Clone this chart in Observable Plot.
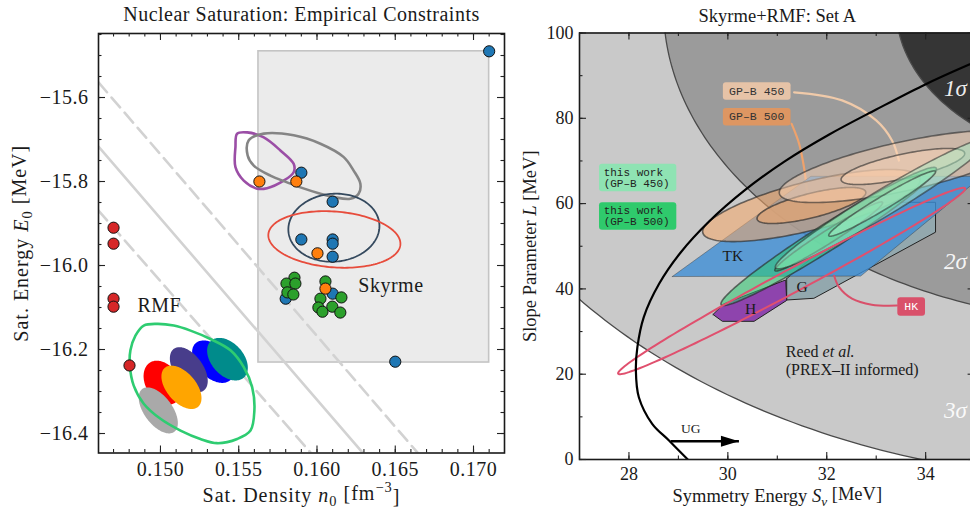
<!DOCTYPE html>
<html><head><meta charset="utf-8">
<script src="https://cdn.jsdelivr.net/npm/d3@7"></script>
<script src="https://cdn.jsdelivr.net/npm/@observablehq/plot@0.6"></script>
<style>
html,body{margin:0;padding:0;background:#fff;overflow:hidden;}
#wrap{display:flex;width:970px;height:508px;overflow:hidden;}
#left{width:510px;height:508px;flex:none;}
#right{width:470px;height:508px;flex:none;}
svg{display:block;}
</style></head><body><div id="wrap"><div id="left"></div><div id="right"></div></div>
<script>
// ---------------- LEFT PANEL DATA ----------------
const xTicksL = [0.150, 0.155, 0.160, 0.165, 0.170];
const yTicksL = [-16.4, -16.2, -16.0, -15.8, -15.6];
const skyrmeBlue = [[0.1710,-15.490],[0.1590,-15.779],[0.1610,-15.848],[0.1590,-15.938],[0.1610,-15.938],[0.1610,-15.948],[0.1610,-15.979],[0.1650,-16.229],[0.1580,-16.079],[0.1610,-16.067]];
const skyrmeGreen = [[0.15856,-16.029],[0.15805,-16.043],[0.15862,-16.043],[0.15811,-16.064],[0.15849,-16.069],[0.16054,-16.038],[0.16156,-16.076],[0.16022,-16.079],[0.16009,-16.100],[0.16035,-16.110],[0.16098,-16.098],[0.16149,-16.112]];
const skyrmeOrange = [[0.15632,-15.800],[0.15868,-15.800],[0.16003,-15.971],[0.16054,-16.055]];
const rmfRed = [[0.1470,-15.910],[0.1470,-15.948],[0.1470,-16.079],[0.1470,-16.098],[0.14802,-16.238]];
const boxN = [0.15626, 0.1710];
const boxE = [-16.231, -15.490];
const bandSolid = [[0.14604,-15.717],[0.1629,-16.445]];
const bandDashHi = [[0.14604,-15.564],[0.16641,-16.445]];
const bandDashLo = [[0.14604,-15.869],[0.15958,-16.445]];
const purpleContour = [[0.15490,-15.686],[0.15554,-15.683],[0.15660,-15.695],[0.15766,-15.726],[0.15851,-15.758],[0.15851,-15.778],[0.15787,-15.798],[0.15681,-15.816],[0.15618,-15.817],[0.15532,-15.798],[0.15479,-15.766],[0.15479,-15.718]];
const grayContour = [[0.15564,-15.702],[0.15660,-15.686],[0.15851,-15.690],[0.16022,-15.710],[0.16171,-15.742],[0.16234,-15.774],[0.16277,-15.805],[0.16266,-15.829],[0.16213,-15.841],[0.16107,-15.837],[0.16022,-15.829],[0.15894,-15.814],[0.15809,-15.802],[0.15702,-15.786],[0.15596,-15.762],[0.15557,-15.738]];
const greenContour = [[0.14893,-16.143],[0.14979,-16.139],[0.15085,-16.143],[0.15192,-16.155],[0.15319,-16.175],[0.15447,-16.202],[0.15532,-16.242],[0.15586,-16.290],[0.15600,-16.345],[0.15575,-16.393],[0.15490,-16.413],[0.15362,-16.423],[0.15255,-16.413],[0.15128,-16.393],[0.15000,-16.365],[0.14893,-16.329],[0.14829,-16.286],[0.14804,-16.238],[0.14808,-16.202],[0.14840,-16.167]];
const skyrmeEllipses = [
  {id:"navy", x:0.16108, y:-15.910, sx:0.00291, sy:0.0810, rho:0.05},
  {id:"coral", x:0.16111, y:-15.938, sx:0.00422, sy:0.0674, rho:-0.15}
];
const rmfEllipses = [
  {id:"blue",   x:0.15335, y:-16.229, sx:0.00133, sy:0.0505, rho:-0.45},
  {id:"teal",   x:0.15428, y:-16.223, sx:0.00130, sy:0.0507, rho:-0.40},
  {id:"slate",  x:0.15181, y:-16.248, sx:0.00121, sy:0.0536, rho:-0.50},
  {id:"red",    x:0.15013, y:-16.279, sx:0.00121, sy:0.0524, rho:-0.30},
  {id:"orange", x:0.15134, y:-16.290, sx:0.00128, sy:0.0517, rho:-0.50},
  {id:"gray",   x:0.14986, y:-16.345, sx:0.00125, sy:0.0548, rho:-0.55}
];
const leftLabels = [{t:"RMF", x:0.14853, y:-16.095},{t:"Skyrme", x:0.16264, y:-16.048}];

// ---------------- RIGHT PANEL DATA ----------------
const xTicksR = [28, 30, 32, 34];
const yTicksR = [0, 20, 40, 60, 80, 100];
const reed = {x:38.1, y:106, sx:4.7, sy:37, rho:0};
const reedLevels = [3, 2, 1];
const sigmaLabels = [{t:"3σ", x:34.37, y:11.5},{t:"2σ", x:34.37, y:46.3},{t:"1σ", x:34.37, y:87.0}];
const ugCurve = [[29.19,0],[28.81,4.45],[28.47,8.37],[28.20,14.6],[28.14,20.9],[28.17,26.3],[28.30,33.4],[28.61,41.2],[29.05,48.6],[29.62,55.8],[30.35,63.2],[31.15,69.9],[32.05,76.2],[32.99,82.0],[33.93,87.6],[34.88,92.6],[35.5,95.6]];
const ugArrow = [{x1:28.843, x2:30.224, y:4.29}];
const tkPoly = [[28.876,42.9],[32.686,43.0],[35.14,66.4],[31.68,66.4]];
const gPoly = [[31.19,42.4],[31.19,37.4],[31.74,37.8],[34.20,53.3],[34.20,60.3],[33.06,60.3]];
const hPoly = [[29.70,34.0],[29.92,36.5],[31.17,42.1],[31.19,37.3],[30.53,32.4],[29.89,32.4]];
const gpbEllipses = [
  {id:"GP–B 500", x:31.69, y:59.55, sx:1.10, sy:4.23, rho:0.72},
  {id:"GP–B 450", x:33.54, y:68.7,  sx:1.25, sy:4.23, rho:0.72}
];
const thisWorkEllipses = [
  {id:"500", x:32.04, y:52.3, sx:1.09, sy:8.1, rho:0.975},
  {id:"450", x:33.12, y:60.0, sx:1.08, sy:7.65, rho:0.972}
];
const hkEllipse = {x:31.29, y:41.85, sx:3.51, sy:21.86, rho:0.990};
const levels12 = [2, 1];
const gpb450Leader = [[31.34,86.1],[32.31,84.2],[33.0,79.5],[33.32,74.8],[33.46,70.1]];
const gpb500Leader = [[31.29,78.7],[31.44,74.1],[31.54,68.5],[31.60,63.1]];
const hkLeader = [[32.15,43.1],[32.25,40.4],[32.51,37.7],[32.91,36.3],[33.42,36.1]];
const boxLabels = [
  {id:"gpb450", t:"GP–B 450", x:30.584, y:86.40},
  {id:"gpb500", t:"GP–B 500", x:30.584, y:80.38},
  {id:"tw450", t:"this work\n(GP–B 450)", x:28.176, y:66.12},
  {id:"tw500", t:"this work\n(GP–B 500)", x:28.176, y:57.09},
  {id:"hk", t:"HK", x:33.707, y:35.87}
];
const regionLabels = [{t:"TK", x:30.10, y:47.6},{t:"H", x:30.46, y:35.33},{t:"G", x:31.50, y:40.4}];
const reedLabel = [{t:"Reed et al.", x:31.17, y:25.2},{t:"(PREX–II informed)", x:31.17, y:20.98}];
const ugLabel = [{t:"UG", x:29.25, y:7.2}];

// ---------------- HELPERS ----------------
const SERIF = "'Liberation Serif', 'Times New Roman', serif";
const MONO = "'Liberation Mono', 'DejaVu Sans Mono', monospace";
function covEllipse(c, k, n = 160) {
  const pts = [];
  const s = Math.sqrt(1 - c.rho * c.rho);
  for (let i = 0; i <= n; i++) {
    const t = 2 * Math.PI * i / n;
    pts.push([c.x + k * c.sx * Math.cos(t), c.y + k * c.sy * (c.rho * Math.cos(t) + s * Math.sin(t))]);
  }
  return pts;
}
const X = d => d[0], Y = d => d[1];
function tickMarks(xMaj, xMin, yMaj, yMin, iw, ih) {
  const st = {stroke: "#222", strokeWidth: 1.1};
  const M = 7, m = 3.5;
  return [
    Plot.ruleX(xMaj, {x: d => d, insetTop: ih - M, ...st}),
    Plot.ruleX(xMaj, {x: d => d, insetBottom: ih - M, ...st}),
    Plot.ruleX(xMin, {x: d => d, insetTop: ih - m, ...st}),
    Plot.ruleX(xMin, {x: d => d, insetBottom: ih - m, ...st}),
    Plot.ruleY(yMaj, {y: d => d, insetRight: iw - M, ...st}),
    Plot.ruleY(yMaj, {y: d => d, insetLeft: iw - M, ...st}),
    Plot.ruleY(yMin, {y: d => d, insetRight: iw - m, ...st}),
    Plot.ruleY(yMin, {y: d => d, insetLeft: iw - m, ...st})
  ];
}
function roundBox(w, h, r) {
  return {draw(ctx) {
    const x0 = -w / 2, y0 = -h / 2, x1 = w / 2, y1 = h / 2;
    ctx.moveTo(x0 + r, y0); ctx.lineTo(x1 - r, y0); ctx.arcTo(x1, y0, x1, y0 + r, r);
    ctx.lineTo(x1, y1 - r); ctx.arcTo(x1, y1, x1 - r, y1, r);
    ctx.lineTo(x0 + r, y1); ctx.arcTo(x0, y1, x0, y1 - r, r);
    ctx.lineTo(x0, y0 + r); ctx.arcTo(x0, y0, x0 + r, y0, r); ctx.closePath();
  }};
}
const arrowHead = {draw(ctx) { ctx.moveTo(0, 0); ctx.lineTo(-18, -5.5); ctx.lineTo(-18, 5.5); ctx.closePath(); }};
function rich(svg, key, segs) {
  d3.select(svg).selectAll("text").filter(function() { return this.textContent === key; }).each(function() {
    const t = d3.select(this); t.text(null);
    segs.forEach(s => {
      const ts = t.append("tspan").text(s.t);
      if (s.it) ts.attr("font-style", "italic");
      if (s.sub) ts.attr("dy", s.sub).attr("font-size", "72%");
      if (s.dy) ts.attr("dy", s.dy);
    });
  });
}

// ---------------- LEFT PLOT ----------------
const lW = 510, lH = 508, lML = 98, lMR = 6, lMT = 33, lMB = 55.5;
const left = Plot.plot({
  width: lW, height: lH, marginLeft: lML, marginRight: lMR, marginTop: lMT, marginBottom: lMB,
  x: {domain: [0.14604, 0.17198]},
  y: {domain: [-16.4464, -15.4476]},
  style: {fontFamily: SERIF, fontSize: "20px", color: "#1a1a1a", background: "white", overflow: "visible", letterSpacing: "0.5px", maxWidth: "none"},
  marks: [
    Plot.rect([{a: boxN[0], b: boxN[1], c: boxE[0], d: boxE[1]}], {x1: "a", x2: "b", y1: "c", y2: "d", fill: "#ebebeb", stroke: "#c4c4c4", strokeWidth: 1.6}),
    Plot.line(bandSolid, {x: X, y: Y, stroke: "#d2d2d2", strokeWidth: 2.6, clip: true}),
    Plot.line(bandDashHi, {x: X, y: Y, stroke: "#d2d2d2", strokeWidth: 2.6, strokeDasharray: "13,7", clip: true}),
    Plot.line(bandDashLo, {x: X, y: Y, stroke: "#d2d2d2", strokeWidth: 2.6, strokeDasharray: "13,7", clip: true}),
    Plot.line(purpleContour, {x: X, y: Y, curve: "catmull-rom-closed", stroke: "#9b4ea6", strokeWidth: 2.6}),
    Plot.line(grayContour, {x: X, y: Y, curve: "catmull-rom-closed", stroke: "#858585", strokeWidth: 2.6}),
    Plot.line(covEllipse(skyrmeEllipses[0], 1), {x: X, y: Y, stroke: "#34495e", strokeWidth: 1.8}),
    Plot.line(covEllipse(skyrmeEllipses[1], 1), {x: X, y: Y, stroke: "#e74c3c", strokeWidth: 1.8}),
    ...rmfEllipses.map(e => Plot.line(covEllipse(e, 1), {x: X, y: Y, fill: ({blue:"#0000ff", teal:"#008b8b", slate:"#483d8b", red:"#ff0000", orange:"#ffa500", gray:"#a9a9a9"})[e.id], stroke: "none"})),
    Plot.line(greenContour, {x: X, y: Y, curve: "catmull-rom-closed", stroke: "#2ecc71", strokeWidth: 2.6}),
    Plot.dot(skyrmeBlue, {x: X, y: Y, r: 5.6, fill: "#1f77b4", stroke: "#111", strokeWidth: 1}),
    Plot.dot(skyrmeGreen, {x: X, y: Y, r: 5.6, fill: "#2ca02c", stroke: "#111", strokeWidth: 1}),
    Plot.dot(skyrmeOrange, {x: X, y: Y, r: 5.6, fill: "#ff7f0e", stroke: "#111", strokeWidth: 1}),
    Plot.dot(rmfRed, {x: X, y: Y, r: 5.6, fill: "#d62728", stroke: "#111", strokeWidth: 1}),
    Plot.text(leftLabels, {x: "x", y: "y", text: "t", textAnchor: "start", fontSize: 20, fill: "#1a1a1a"}),
    Plot.frame({stroke: "#1a1a1a", strokeWidth: 1.6}),
    ...tickMarks(xTicksL, d3.range(0.147, 0.1715, 0.001), yTicksL, d3.range(-16.4, -15.44, 0.05), lW - lML - lMR, lH - lMT - lMB),
    Plot.axisX({ticks: xTicksL, tickSize: 0, tickPadding: 9, tickFormat: d => d.toFixed(3), fontSize: 20, label: null}),
    Plot.axisY({ticks: yTicksL, tickSize: 0, tickPadding: 10, tickFormat: d => d.toFixed(1).replace("-", "\u2212"), fontSize: 20, label: null}),
    Plot.text(["Nuclear Saturation: Empirical Constraints"], {text: d => d, frameAnchor: "top", lineAnchor: "middle", textAnchor: "middle", dy: -18.5, fontSize: 20, letterSpacing: "1.3px"}),
    Plot.text(["Sat. Density n0 [fm-3]"], {text: d => d, frameAnchor: "bottom", lineAnchor: "middle", textAnchor: "middle", dy: 42.5, fontSize: 20}),
    Plot.text(["Sat. Energy E0 [MeV]"], {text: d => d, frameAnchor: "left", lineAnchor: "middle", textAnchor: "middle", dx: -77, rotate: -90, fontSize: 20})
  ]
});
rich(left, "Sat. Density n0 [fm-3]", [{t: "Sat. Density "}, {t: "n", it: 1}, {t: "0", sub: "0.3em"}, {t: " [fm", dy: "-0.3em"}, {t: "\u22123", sub: "-0.55em"}, {t: "]", dy: "0.55em"}]);
rich(left, "Sat. Energy E0 [MeV]", [{t: "Sat. Energy "}, {t: "E", it: 1}, {t: "0", sub: "0.3em"}, {t: " [MeV]", dy: "-0.3em"}]);
d3.select(left).selectAll("text").filter(function() { return /^Sat\./.test(this.textContent); }).attr("letter-spacing", "1px");
document.getElementById("left").append(left);

// ---------------- RIGHT PLOT ----------------
const rW = 470, rH = 508, rML = 69, rMR = 5.4, rMT = 32.5, rMB = 49;
const reedFill = {3: "#c9c9c9", 2: "#9b9b9b", 1: "#353535"};
const boxFill = {gpb450: "#e6c3a7", gpb500: "#dd9662", tw450: "#8fe3b3", tw500: "#2fca6c", hk: "#d9506a"};
const boxSize = {gpb450: [67.7, 17.6], gpb500: [67.7, 17.6], tw450: [77.3, 27.4], tw500: [77.3, 27.4], hk: [27.7, 18.3]};
const right = Plot.plot({
  width: rW, height: rH, marginLeft: rML, marginRight: rMR, marginTop: rMT, marginBottom: rMB,
  x: {domain: [27, 35]},
  y: {domain: [0, 100]},
  style: {fontFamily: SERIF, fontSize: "18px", color: "#1a1a1a", background: "white", overflow: "visible", maxWidth: "none"},
  marks: [
    ...reedLevels.map(k => Plot.line(covEllipse(reed, k, 400), {x: X, y: Y, fill: reedFill[k], stroke: "#4a4a4a", strokeWidth: 1.3, clip: true})),
    Plot.text(sigmaLabels, {x: "x", y: "y", text: "t", textAnchor: "start", fill: "white", fillOpacity: 0.92, fontSize: 23, fontStyle: "italic"}),
    Plot.line(gpb450Leader, {x: X, y: Y, curve: "catmull-rom", stroke: "#f0caa9", strokeWidth: 2.2}),
    Plot.line(gpb500Leader, {x: X, y: Y, curve: "catmull-rom", stroke: "#eea26c", strokeWidth: 2.2}),
    Plot.line(gPoly.concat([gPoly[0]]), {x: X, y: Y, fill: "#93a8ae", stroke: "#222", strokeWidth: 1, clip: true}),
    Plot.line(hPoly.concat([hPoly[0]]), {x: X, y: Y, fill: "#8e44ad", stroke: "#222", strokeWidth: 1, clip: true}),
    Plot.line(tkPoly.concat([tkPoly[0]]), {x: X, y: Y, fill: "#3f8fd6", fillOpacity: 0.8, stroke: "#333", strokeOpacity: 0.4, strokeWidth: 1, clip: true}),
    ...levels12.map(k => Plot.line(covEllipse(gpbEllipses[0], k), {x: X, y: Y, fill: "#f5a868", fillOpacity: 0.55, stroke: "#2a2a2a", strokeOpacity: 0.65, strokeWidth: 1.6, clip: true})),
    ...levels12.map(k => Plot.line(covEllipse(gpbEllipses[1], k), {x: X, y: Y, fill: "#fbd3b6", fillOpacity: 0.5, stroke: "#2a2a2a", strokeOpacity: 0.6, strokeWidth: 1.6, clip: true})),
    ...levels12.map(k => Plot.line(covEllipse(thisWorkEllipses[0], k), {x: X, y: Y, fill: "#2ecc71", fillOpacity: 0.55, stroke: "#2a2a2a", strokeOpacity: 0.65, strokeWidth: 1.6, clip: true})),
    ...levels12.map(k => Plot.line(covEllipse(thisWorkEllipses[1], k), {x: X, y: Y, fill: "#a6ecc6", fillOpacity: 0.5, stroke: "#2a2a2a", strokeOpacity: 0.55, strokeWidth: 1.6, clip: true})),
    Plot.line(covEllipse(hkEllipse, 1), {x: X, y: Y, stroke: "#e0506e", strokeWidth: 2, clip: true}),
    Plot.line(hkLeader, {x: X, y: Y, curve: "catmull-rom", stroke: "#d9506a", strokeWidth: 2}),
    Plot.line(ugCurve, {x: X, y: Y, curve: "catmull-rom", stroke: "black", strokeWidth: 2.2, clip: true}),
    Plot.link(ugArrow, {x1: "x1", x2: "x2", y1: "y", y2: "y", stroke: "black", strokeWidth: 2.4}),
    Plot.dot(ugArrow, {x: "x2", y: "y", symbol: arrowHead, fill: "black", stroke: "none"}),
    Plot.text(ugLabel, {x: "x", y: "y", text: "t", fontSize: 13.5, letterSpacing: "0.5px"}),
    ...boxLabels.map(b => Plot.dot([b], {x: "x", y: "y", symbol: roundBox(boxSize[b.id][0], boxSize[b.id][1], 3), fill: boxFill[b.id], stroke: "none"})),
    Plot.text(boxLabels.filter(b => b.id.startsWith("gpb")), {x: "x", y: "y", text: "t", fontFamily: MONO, fontSize: 11.5, fill: "#333"}),
    Plot.text(boxLabels.filter(b => b.id.startsWith("tw")), {x: "x", y: "y", text: "t", textAnchor: "start", dx: -34, lineHeight: 1.0, fontFamily: MONO, fontSize: 11, fill: "#222"}),
    Plot.text(boxLabels.filter(b => b.id === "hk"), {x: "x", y: "y", text: "t", fontFamily: MONO, fontSize: 11.5, fill: "white"}),
    Plot.text(regionLabels, {x: "x", y: "y", text: "t", fontSize: 15.5, fill: "#1a1a1a"}),
    Plot.text(reedLabel, {x: "x", y: "y", text: "t", textAnchor: "start", fontSize: 16, fill: "#1a1a1a", letterSpacing: "1px"}),
    Plot.frame({stroke: "#1a1a1a", strokeWidth: 1.6}),
    ...tickMarks(xTicksR, d3.range(27, 35.5, 1), yTicksR, d3.range(0, 101, 10), rW - rML - rMR, rH - rMT - rMB),
    Plot.axisX({ticks: xTicksR, tickSize: 0, tickPadding: 8, fontSize: 18, label: null}),
    Plot.axisY({ticks: yTicksR, tickSize: 0, tickPadding: 6, fontSize: 18, label: null}),
    Plot.text(["Skyrme+RMF: Set A"], {text: d => d, frameAnchor: "top", lineAnchor: "middle", textAnchor: "middle", dy: -16.5, fontSize: 18.5, letterSpacing: "1.1px"}),
    Plot.text(["Symmetry Energy Sv [MeV]"], {text: d => d, frameAnchor: "bottom", lineAnchor: "middle", textAnchor: "middle", dy: 36.5, fontSize: 18.5, letterSpacing: "0.5px"}),
    Plot.text(["Slope Parameter L [MeV]"], {text: d => d, frameAnchor: "left", lineAnchor: "middle", textAnchor: "middle", dx: -49, rotate: -90, fontSize: 18.5, letterSpacing: "0.5px"})
  ]
});
rich(right, "Symmetry Energy Sv [MeV]", [{t: "Symmetry Energy "}, {t: "S", it: 1}, {t: "v", it: 1, sub: "0.3em"}, {t: " [MeV]", dy: "-0.3em"}]);
rich(right, "Slope Parameter L [MeV]", [{t: "Slope Parameter "}, {t: "L", it: 1}, {t: " [MeV]"}]);
rich(right, "Reed et al.", [{t: "Reed "}, {t: "et al.", it: 1}]);
document.getElementById("right").append(right);
</script></body></html>
